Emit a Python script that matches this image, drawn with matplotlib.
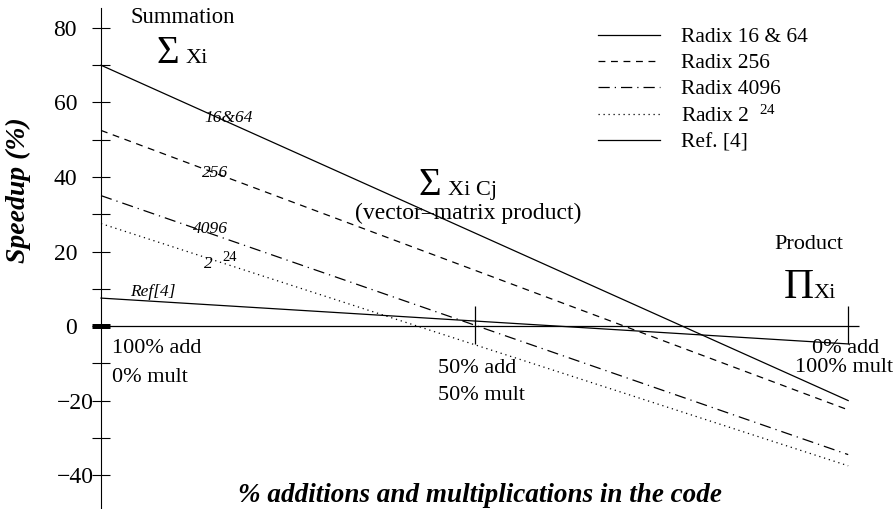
import matplotlib
matplotlib.use("Agg")
import matplotlib.pyplot as plt

plt.rcParams['font.family'] = ['Liberation Serif', 'DejaVu Serif']
plt.rcParams['mathtext.fontset'] = 'custom'
plt.rcParams['mathtext.rm'] = 'Liberation Serif'
plt.rcParams['mathtext.it'] = 'Liberation Serif:italic'

# share of additions (%) : 0 = all additions, 100 = all multiplications
mix = [0, 100]
radix16_64 = [70, -20]
radix256 = [52.5, -22.5]
radix4096 = [35, -34.5]
radix2_24 = [27.5, -37.5]
ref4 = [7.5, -4.8]

legend_labels = ['Radix 16 & 64', 'Radix 256', 'Radix 4096',
                 'Radix 2  $^{24}$', 'Ref. [4]']
yticks_major = [-40, -20, 0, 20, 40, 60, 80]
yticks_minor = [-30, -10, 10, 30, 50, 70]

fig = plt.figure(figsize=(8.96, 5.09), dpi=100)
ax = fig.add_axes([0, 0, 1, 1])
ax.set_xlim(-13.52, 106.4)
ax.set_ylim(-49.1, 87.5)

lw = 0.9
ax.plot(mix, radix16_64, color='k', lw=lw, label=legend_labels[0])
ax.plot(mix, radix256, color='k', lw=lw, ls=(0, (5.5, 4.5)), label=legend_labels[1])
ax.plot(mix, radix4096, color='k', lw=lw, ls=(0, (9, 4, 1, 4)), label=legend_labels[2])
ax.plot(mix, radix2_24, color='k', lw=lw, ls=(0, (1, 3)), label=legend_labels[3])
ax.plot(mix, ref4, color='k', lw=lw, label=legend_labels[4])

# zero line with markers at 50% and 100%
ax.hlines(0, 0, 101.5, color='k', lw=lw)
ax.vlines([50, 100], -4.7, 5.3, color='k', lw=lw)
ax.plot([-1.2, 1.2], [0, 0], color='k', lw=3.6, solid_capstyle='butt')

# y axis drawn through x = 0
for s in ['top', 'right', 'bottom']:
    ax.spines[s].set_visible(False)
ax.spines['left'].set_position(('data', 0))
ax.spines['left'].set_bounds(-49.1, 85.4)
ax.spines['left'].set_linewidth(0.8)
ax.set_xticks([])
ax.set_yticks(yticks_major)
ax.set_yticks(yticks_minor, minor=True)
ax.tick_params(axis='y', which='both', direction='inout', length=13, width=0.8,
               labelleft=False)
# tick labels: negative ones sit closer to the axis, as in the original
for v in yticks_major:
    xt = -1.0 if v < 0 else -3.2
    ax.text(xt, v, f'{v}'.replace('-', '\u2212'), fontsize=17, ha='right',
            va='center_baseline')

# line labels
lab = dict(fontsize=12.5, style='italic', va='baseline')
ax.text(13.9, 54.8, '16&64', **lab)
ax.text(13.5, 40.0, '256', **lab)
ax.text(12.3, 25.0, '4096', **lab)
ax.text(13.8, 15.6, '2', **lab)
ax.text(16.3, 17.4, '24', fontsize=10.5, va='baseline')
ax.text(3.9, 8.0, 'Ref[4]', **lab)

# regions
ax.text(11.0, 82.7, 'Summation', fontsize=16.3, ha='center', va='center')
ax.text(7.4, 70.6, '\u03a3', fontsize=28, va='baseline')
ax.text(11.3, 70.6, 'Xi', fontsize=16, va='baseline')
ax.text(42.5, 35.2, '\u03a3', fontsize=28, va='baseline')
ax.text(46.4, 35.2, 'Xi Cj', fontsize=16, va='baseline')
ax.text(49.1, 30.3, '(vector\u2013matrix product)', fontsize=17, ha='center', va='center')
ax.text(94.8, 22.0, 'Product', fontsize=16, ha='center', va='center')
ax.text(91.4, 7.5, '\u03a0', fontsize=30, va='baseline')
ax.text(95.3, 7.5, 'Xi', fontsize=16, va='baseline')

ax.text(1.5, -7.2, '100% add', fontsize=16, va='baseline')
ax.text(1.5, -15.0, '0% mult', fontsize=16, va='baseline')
ax.text(45.1, -12.6, '50% add', fontsize=16, va='baseline')
ax.text(45.1, -19.9, '50% mult', fontsize=16, va='baseline')
ax.text(95.2, -7.2, '0% add', fontsize=16, va='baseline')
ax.text(92.9, -12.3, '100% mult', fontsize=16, va='baseline')

ax.text(-11.0, 36.5, 'Speedup (%)', fontsize=20, weight='bold', style='italic',
        rotation=90, ha='center', va='center')
ax.text(50.7, -45.4, '% additions and multiplications in the code', fontsize=19.5,
        weight='bold', style='italic', ha='center', va='center')

ax.legend(loc='upper left', bbox_to_anchor=(598 / 896, 1 - 27 / 509),
          frameon=False, fontsize=15.5, handlelength=2.9, handletextpad=0.95,
          labelspacing=0.28, borderpad=0, borderaxespad=0)

fig.savefig('out.png', dpi=100)
